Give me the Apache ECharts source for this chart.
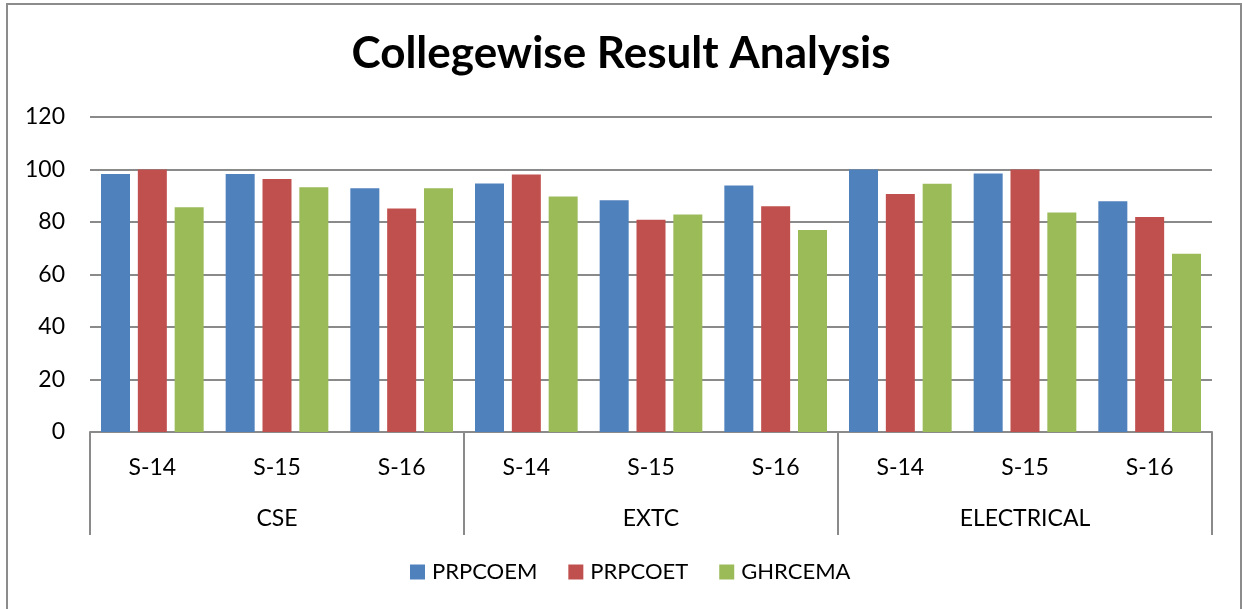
<!DOCTYPE html>
<html>
<head>
<meta charset="utf-8">
<script src="https://cdn.jsdelivr.net/npm/echarts@6/dist/echarts.min.js"></script>
<style>
  html, body { margin: 0; padding: 0; background: #fff; }
  #chart { width: 1242px; height: 609px; }
</style>
</head>
<body>
<div id="chart"></div>
<script>
// data
const semesters = ["S-14", "S-15", "S-16", "S-14", "S-15", "S-16", "S-14", "S-15", "S-16"];
const branches = ["CSE", "EXTC", "ELECTRICAL"];
const seriesNames = ["PRPCOEM", "PRPCOET", "GHRCEMA"];
const prpcoem = [98.3, 98.3, 92.9, 94.7, 88.3, 93.9, 100, 98.5, 87.9];
const prpcoet = [100, 96.4, 85.1, 98.1, 80.9, 86, 90.7, 100, 81.9];
const ghrcema = [85.6, 93.2, 92.9, 89.7, 82.9, 77, 94.6, 83.6, 67.9];
const yTicks = { min: 0, max: 120, interval: 20 };

const colors = ["#4F81BD", "#C0504D", "#9BBB59"];
const font = "Lato, 'Open Sans', sans-serif";
const gray = "#8a8a8a";

let chart = echarts.init(document.getElementById("chart"));

// one bar series per college
let seriesList = [prpcoem, prpcoet, ghrcema].map((vals, i) => {
  return {
    name: seriesNames[i],
    type: "bar",
    xAxisIndex: 0,
    data: vals,
    barWidth: 29,
    barGap: "27%",
    itemStyle: { color: colors[i] }
  };
});

chart.setOption({
  animation: false,
  textStyle: { fontFamily: font },
  title: {
    text: "Collegewise Result Analysis",
    left: "center",
    top: 27,
    textStyle: { fontFamily: font, fontSize: 44, fontWeight: "bold", color: "#000" }
  },
  legend: {
    data: seriesNames,
    left: 405,
    top: 556,
    itemWidth: 15,
    itemHeight: 15,
    itemGap: 31,
    icon: "rect",
    textStyle: { fontFamily: font, fontSize: 22, color: "#000", padding: [0, 0, 0, 2] }
  },
  grid: { left: 90, right: 30, top: 117, bottom: 177, containLabel: false },
  xAxis: [
    {
      type: "category",
      data: semesters,
      axisLine: { lineStyle: { color: gray, width: 2 } },
      axisTick: { show: false },
      axisLabel: { color: "#000", fontSize: 23, fontFamily: font, margin: 24, interval: 0 }
    },
    {
      type: "category",
      data: branches,
      position: "bottom",
      axisLine: { show: false },
      axisTick: { show: true, length: 103, lineStyle: { color: gray, width: 2 } },
      axisLabel: { color: "#000", fontSize: 23, fontFamily: font, margin: 75, interval: 0 }
    }
  ],
  yAxis: {
    type: "value",
    min: yTicks.min,
    max: yTicks.max,
    interval: yTicks.interval,
    axisLine: { show: false },
    axisTick: { show: false },
    splitLine: { lineStyle: { color: gray, width: 2 } },
    axisLabel: { color: "#000", fontSize: 23, fontFamily: font, margin: 25 }
  },
  graphic: [
    {
      type: "rect",
      shape: { x: 7, y: 4, width: 1234, height: 700 },
      style: { fill: "none", stroke: "#8c8c8c", lineWidth: 2 },
      silent: true
    }
  ],
  series: seriesList
});
</script>
</body>
</html>
